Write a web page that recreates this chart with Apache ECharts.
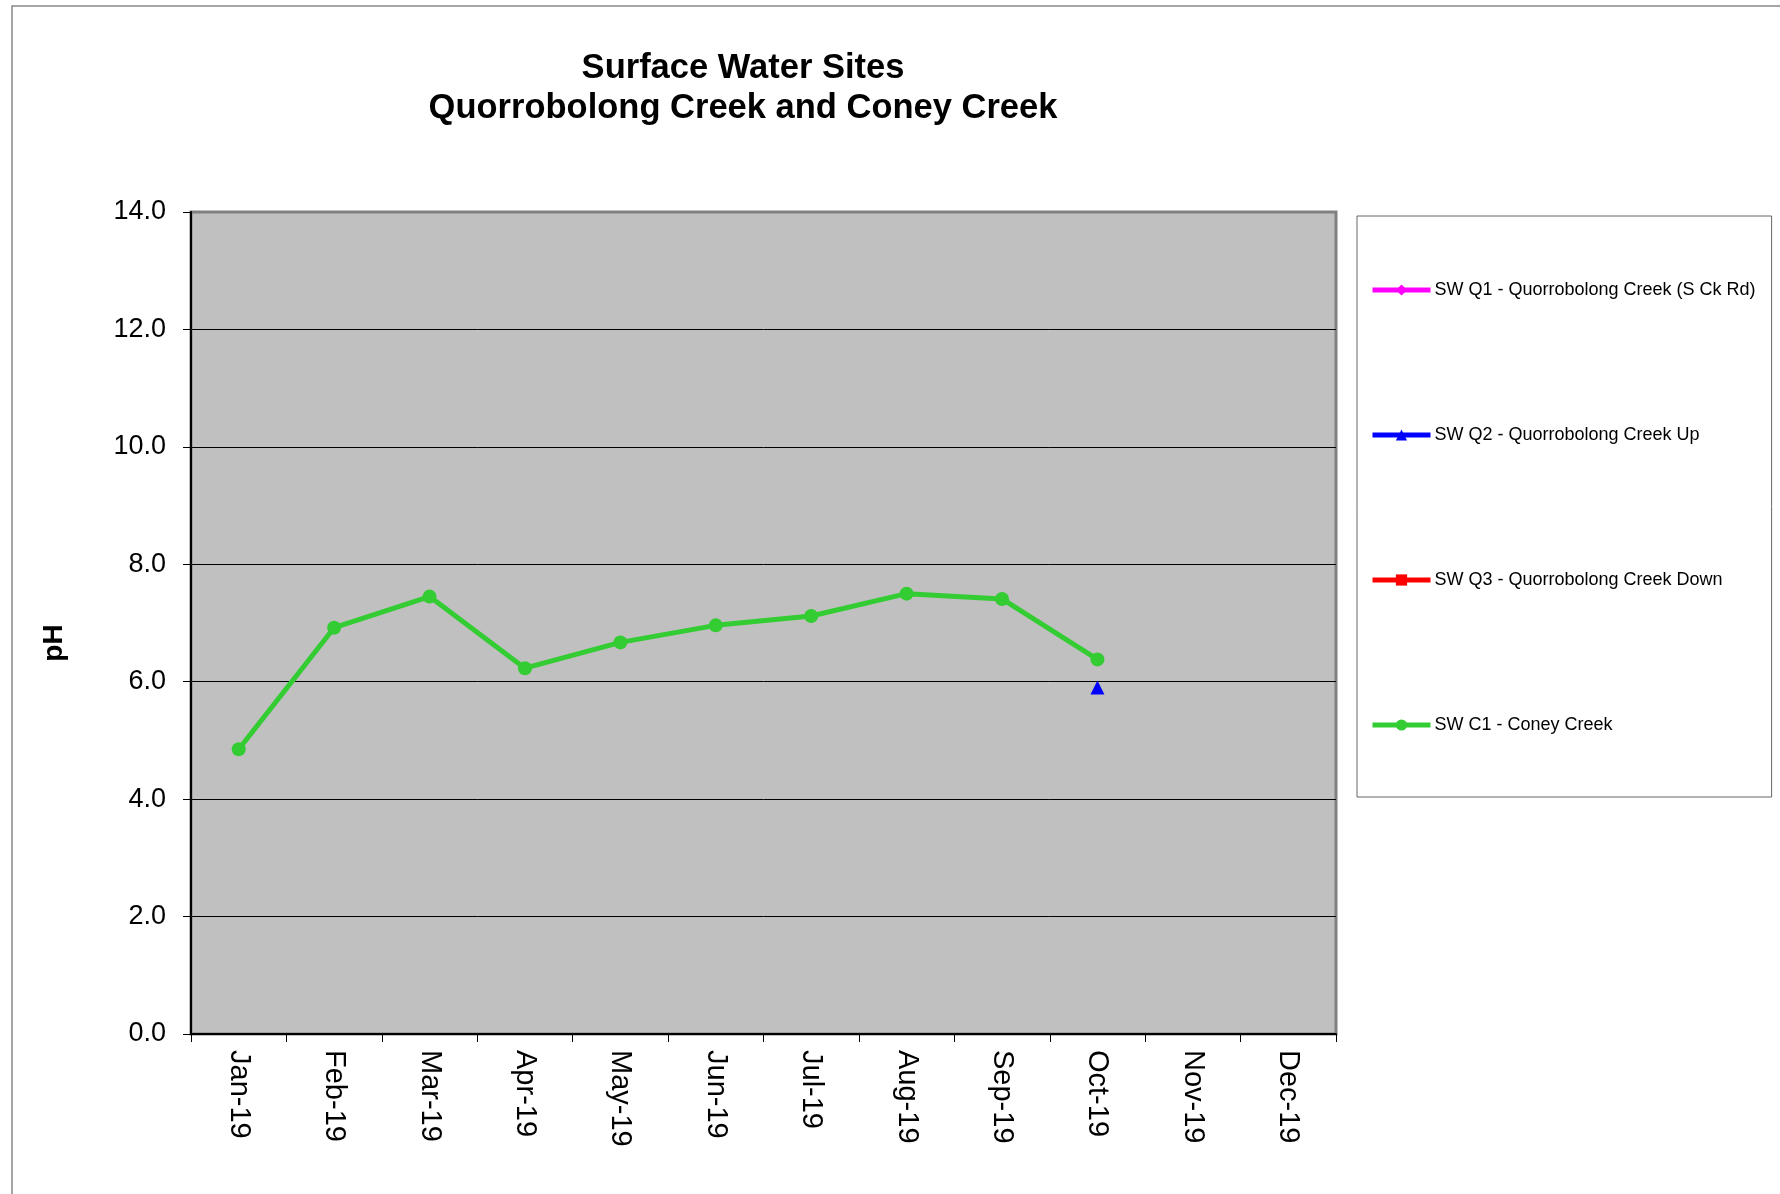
<!DOCTYPE html>
<html>
<head>
<meta charset="utf-8">
<script src="https://cdn.jsdelivr.net/npm/echarts@6/dist/echarts.min.js"></script>
<style>
  html, body { margin: 0; padding: 0; background: #fff; }
  #chart { width: 1780px; height: 1194px; }
</style>
</head>
<body>
<div id="chart"></div>
<script>
// months on the x axis
const months = ['Jan-19', 'Feb-19', 'Mar-19', 'Apr-19', 'May-19', 'Jun-19',
                'Jul-19', 'Aug-19', 'Sep-19', 'Oct-19', 'Nov-19', 'Dec-19'];

// pH readings per site (null = no sample)
const swQ1 = [null, null, null, null, null, null, null, null, null, null, null, null];
const swQ2 = [null, null, null, null, null, null, null, null, null, 5.9, null, null];
const swQ3 = [null, null, null, null, null, null, null, null, null, null, null, null];
const swC1 = [4.85, 6.92, 7.45, 6.23, 6.67, 6.96, 7.12, 7.50, 7.41, 6.38, null, null];

const chart = echarts.init(document.getElementById('chart'));

const font = 'Liberation Sans, Arial, sans-serif';

function site(name, data, color, symbol) {
    return {
        name: name,
        type: 'line',
        data: data,
        symbol: symbol,
        symbolSize: 14,
        connectNulls: false,
        lineStyle: { color: color, width: 5 },
        itemStyle: { color: color },
        emphasis: { disabled: true }
    };
}

chart.setOption({
    animation: false,
    textStyle: { fontFamily: font },
    title: {
        text: 'Surface Water Sites\nQuorrobolong Creek and Coney Creek',
        left: 738,
        top: 43,
        textAlign: 'center',
        textStyle: { fontSize: 34.5, fontWeight: 'bold', color: '#000', lineHeight: 40, fontFamily: font }
    },
    graphic: [{
        type: 'rect',
        shape: { x: 12, y: 6, width: 1800, height: 1300 },
        style: { fill: 'none', stroke: '#888', lineWidth: 1.5 },
        silent: true
    }],
    legend: {
        orient: 'vertical',
        left: 1357,
        top: 216,
        padding: [65, 16, 63, 13],
        itemGap: 127,
        itemWidth: 58,
        itemHeight: 14,
        borderColor: '#666',
        borderWidth: 1,
        width: 413,
        lineStyle: { width: 5 },
        textStyle: { fontSize: 18, color: '#000', fontFamily: font, padding: [0, 0, 0, -1] },
        data: ['SW Q1 - Quorrobolong Creek (S Ck Rd)', 'SW Q2 - Quorrobolong Creek Up',
               'SW Q3 - Quorrobolong Creek Down', 'SW C1 - Coney Creek']
    },
    grid: {
        left: 191,
        right: 444,
        top: 212,
        bottom: 160,
        show: true,
        backgroundColor: '#C0C0C0',
        borderColor: '#808080',
        borderWidth: 3
    },
    xAxis: {
        type: 'category',
        data: months,
        boundaryGap: true,
        axisLine: { lineStyle: { color: '#000', width: 2 } },
        axisTick: { show: true, length: 8, lineStyle: { color: '#000' } },
        axisLabel: { rotate: -90, fontSize: 29, color: '#000', margin: 16, fontFamily: font },
        splitLine: { show: false }
    },
    yAxis: {
        type: 'value',
        min: 0,
        max: 14,
        interval: 2,
        name: 'pH',
        nameLocation: 'middle',
        nameRotate: 90,
        nameGap: 123,
        nameTextStyle: { fontSize: 28, fontWeight: 'bold', color: '#000', fontFamily: font, padding: [0, 40, 0, 0] },
        axisLine: { show: true, lineStyle: { color: '#000', width: 2 } },
        axisTick: { show: true, length: 8, lineStyle: { color: '#000' } },
        axisLabel: {
            fontSize: 27, color: '#000', margin: 25, fontFamily: font,
            formatter: function (v) { return v.toFixed(1); }
        },
        splitLine: { show: true, showMaxLine: false, lineStyle: { color: '#000', width: 1 } }
    },
    series: [
        site('SW Q1 - Quorrobolong Creek (S Ck Rd)', swQ1, '#FF00FF', 'diamond'),
        site('SW Q2 - Quorrobolong Creek Up', swQ2, '#0000FF', 'triangle'),
        site('SW Q3 - Quorrobolong Creek Down', swQ3, '#FF0000', 'rect'),
        site('SW C1 - Coney Creek', swC1, '#33CC33', 'circle')
    ]
});
</script>
</body>
</html>
